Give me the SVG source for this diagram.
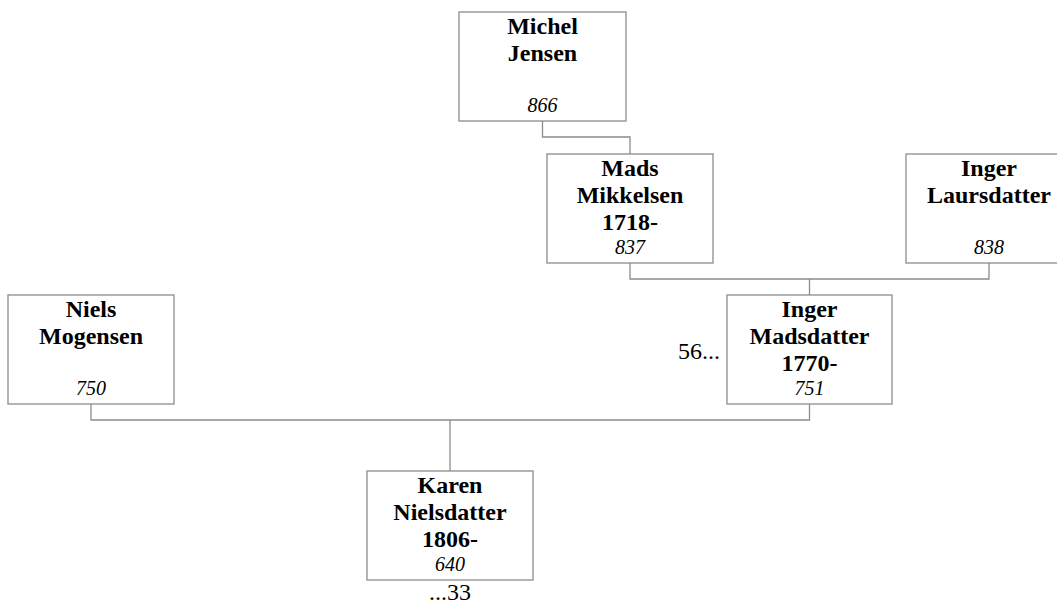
<svg xmlns="http://www.w3.org/2000/svg" width="1057" height="603" viewBox="0 0 1057 603">
<style>
.box{fill:#fff;stroke:#8c8c8c;stroke-width:1.3}
.n{font-family:"Liberation Serif","Times New Roman",serif;font-weight:bold;font-size:24px;fill:#000;text-anchor:middle}
.i{font-family:"Liberation Serif","Times New Roman",serif;font-style:italic;font-size:20px;fill:#000;text-anchor:middle}
.t{font-family:"Liberation Serif","Times New Roman",serif;font-size:24px;fill:#000}
.c{fill:none;stroke:#8c8c8c;stroke-width:1.3}
</style>
<rect width="1057" height="603" fill="#fff"/>
<g id="connectors">
<path class="c" d="M542.5,121 V137 H630 V154"/>
<path class="c" d="M630,263 V279 H989 V263"/>
<path class="c" d="M809.5,279 V295"/>
<path class="c" d="M91,404 V420 H809.5 V404"/>
<path class="c" d="M450,420 V471"/>
</g>
<g id="michel">
<rect class="box" x="459" y="12" width="167" height="109"/>
<text class="n" x="542.5" y="34">Michel</text>
<text class="n" x="542.5" y="61">Jensen</text>
<text class="i" x="542.5" y="112">866</text>
</g>
<g id="mads">
<rect class="box" x="547" y="154" width="166" height="109"/>
<text class="n" x="630" y="176">Mads</text>
<text class="n" x="630" y="203">Mikkelsen</text>
<text class="n" x="630" y="230">1718-</text>
<text class="i" x="630" y="254">837</text>
</g>
<g id="ingerL">
<rect class="box" x="906" y="154" width="167" height="109"/>
<text class="n" x="989" y="176">Inger</text>
<text class="n" x="989" y="203">Laursdatter</text>
<text class="i" x="989" y="254">838</text>
</g>
<g id="ingerM">
<rect class="box" x="727" y="295" width="165" height="109"/>
<text class="n" x="809.5" y="317">Inger</text>
<text class="n" x="809.5" y="344">Madsdatter</text>
<text class="n" x="809.5" y="371">1770-</text>
<text class="i" x="809.5" y="395">751</text>
<text class="t" x="720" y="359" text-anchor="end">56...</text>
</g>
<g id="niels">
<rect class="box" x="8" y="295" width="166" height="109"/>
<text class="n" x="91" y="317">Niels</text>
<text class="n" x="91" y="344">Mogensen</text>
<text class="i" x="91" y="395">750</text>
</g>
<g id="karen">
<rect class="box" x="367" y="471" width="166" height="109"/>
<text class="n" x="450" y="493">Karen</text>
<text class="n" x="450" y="520">Nielsdatter</text>
<text class="n" x="450" y="547">1806-</text>
<text class="i" x="450" y="571">640</text>
<text class="t" x="450" y="600" text-anchor="middle">...33</text>
</g>
</svg>
